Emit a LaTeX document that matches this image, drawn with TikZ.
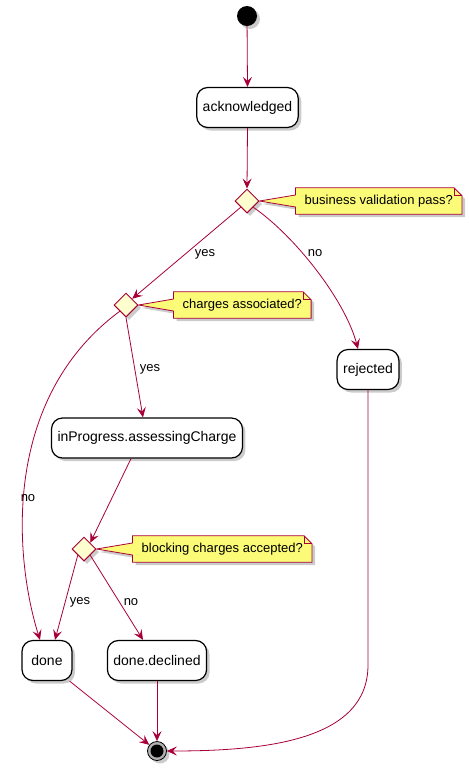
\documentclass[tikz,border=0pt]{standalone}
\usepackage{fontspec}
\setmainfont{Liberation Sans}
\usepackage{tikz}
\usetikzlibrary{shapes,arrows.meta,positioning,backgrounds,shadows}
\definecolor{flowred}{HTML}{A80036}
\definecolor{choicefill}{HTML}{FEFECE}
\definecolor{notefill}{HTML}{FBFB77}
\tikzstyle{dshadow} = [drop shadow={shadow xshift=3pt, shadow yshift=-3pt, fill=black!45, opacity=0.45}]
\tikzstyle{flow} = [draw=flowred, line width=0.8pt, -{Stealth[length=10pt,width=9pt,inset=4pt]}]
\tikzstyle{statebox} = [draw=black, fill=white, line width=1.2pt, rounded corners=11pt, minimum width=50pt, minimum height=40pt, inner xsep=6pt, font=\fontsize{14}{16}\selectfont, dshadow]
\tikzstyle{choice} = [diamond, draw=flowred, fill=choicefill, line width=1pt, minimum size=24pt, inner sep=0pt, dshadow]
\tikzstyle{notetext} = [inner xsep=9pt, minimum height=26pt, font=\fontsize{13}{15}\selectfont]
\tikzstyle{noteline} = [draw=flowred, fill=notefill, line width=0.8pt]
\tikzstyle{lbl} = [font=\fontsize{13}{15}\selectfont, inner sep=1pt]
\tikzstyle{initstate} = [circle, fill=black, minimum size=20pt, inner sep=0pt, dshadow]
\tikzstyle{finalstate} = [circle, draw=black, fill=black!30, minimum size=19pt, inner sep=0pt, line width=0.8pt, dshadow,
  path picture={\fill[black] (path picture bounding box.center) circle (6.5pt);}]

% note outline with wedge towards its diamond
\newcommand{\notebody}[2]{%
  \filldraw[noteline, dshadow] (#1.north west) -- ([yshift=6pt]#1.west) -- (#2.east) -- ([yshift=-6pt]#1.west)
    -- (#1.south west) -- (#1.south east) -- ([yshift=-8pt]#1.north east) -- ([xshift=-8pt]#1.north east) -- cycle;
  \draw[draw=flowred, line width=0.8pt] ([xshift=-8pt]#1.north east) |- ([yshift=-8pt]#1.north east);
}

\begin{document}
\begin{tikzpicture}[x=1pt, y=-1pt]
\useasboundingbox (0,0) rectangle (469,772);

% States
\node[initstate] (init) at (247,16) {};
\node[statebox] (ack) at (247.5,107.5) {acknowledged};
\node[statebox] (ip) at (147,438) {inProgress.assessingCharge};
\node[statebox] (rej) at (368,369.5) {rejected};
\node[statebox] (done) at (47,660.5) {done};
\node[statebox] (dec) at (157,660.5) {done.declined};
\node[finalstate] (final) at (157,751) {};

% Choices
\node[choice] (d1) at (247,201) {};
\node[choice] (d2) at (126,305) {};
\node[choice] (d3) at (84,549) {};

% Notes
\node[notetext, right=36pt of d1] (n1) {business validation pass?};
\node[notetext, right=35pt of d2] (n2) {charges associated?};
\node[notetext, right=36pt of d3] (n3) {blocking charges accepted?};
\begin{scope}[on background layer]
\notebody{n1}{d1}
\notebody{n2}{d2}
\notebody{n3}{d3}
\end{scope}

% Transitions
\draw[flow] (init) -- (ack.north);
\draw[flow] (ack.south) -- (d1.north);
\draw[flow] (d1.south west) -- (d2.north east);
\draw[flow] (d1.south east) .. controls (295,236) and (345,300) .. ([xshift=-10pt]rej.north);
\draw[flow] (d2.south) -- ([xshift=-4pt]ip.north);
\draw[flow] (d2.south west) .. controls (0,400) and (15,560) .. ([xshift=-7pt]done.north);
\draw[flow] ([xshift=-16pt]ip.south) -- (d3.north east);
\draw[flow] (d3.south west) -- ([xshift=8pt]done.north);
\draw[flow] (d3.south east) -- ([xshift=-14pt]dec.north);
\draw[flow] ([xshift=-3pt]done.south east) -- (final);
\draw[flow] (dec.south) -- (final.north);
\coordinate (rbend) at (368,665);
\draw[flow] (rej.south) -- (rbend) .. controls +(0,75) and +(100,0) .. (final.east);

% Labels
\node[lbl] (yes1) at (205,254) {yes};
\node[lbl] (no1) at (315,253) {no};
\node[lbl] (yes2) at (150,369) {yes};
\node[lbl] (no2) at (28,498) {no};
\node[lbl] (yes3) at (80,602) {yes};
\node[lbl] (no3) at (131,602) {no};

\end{tikzpicture}
\end{document}
